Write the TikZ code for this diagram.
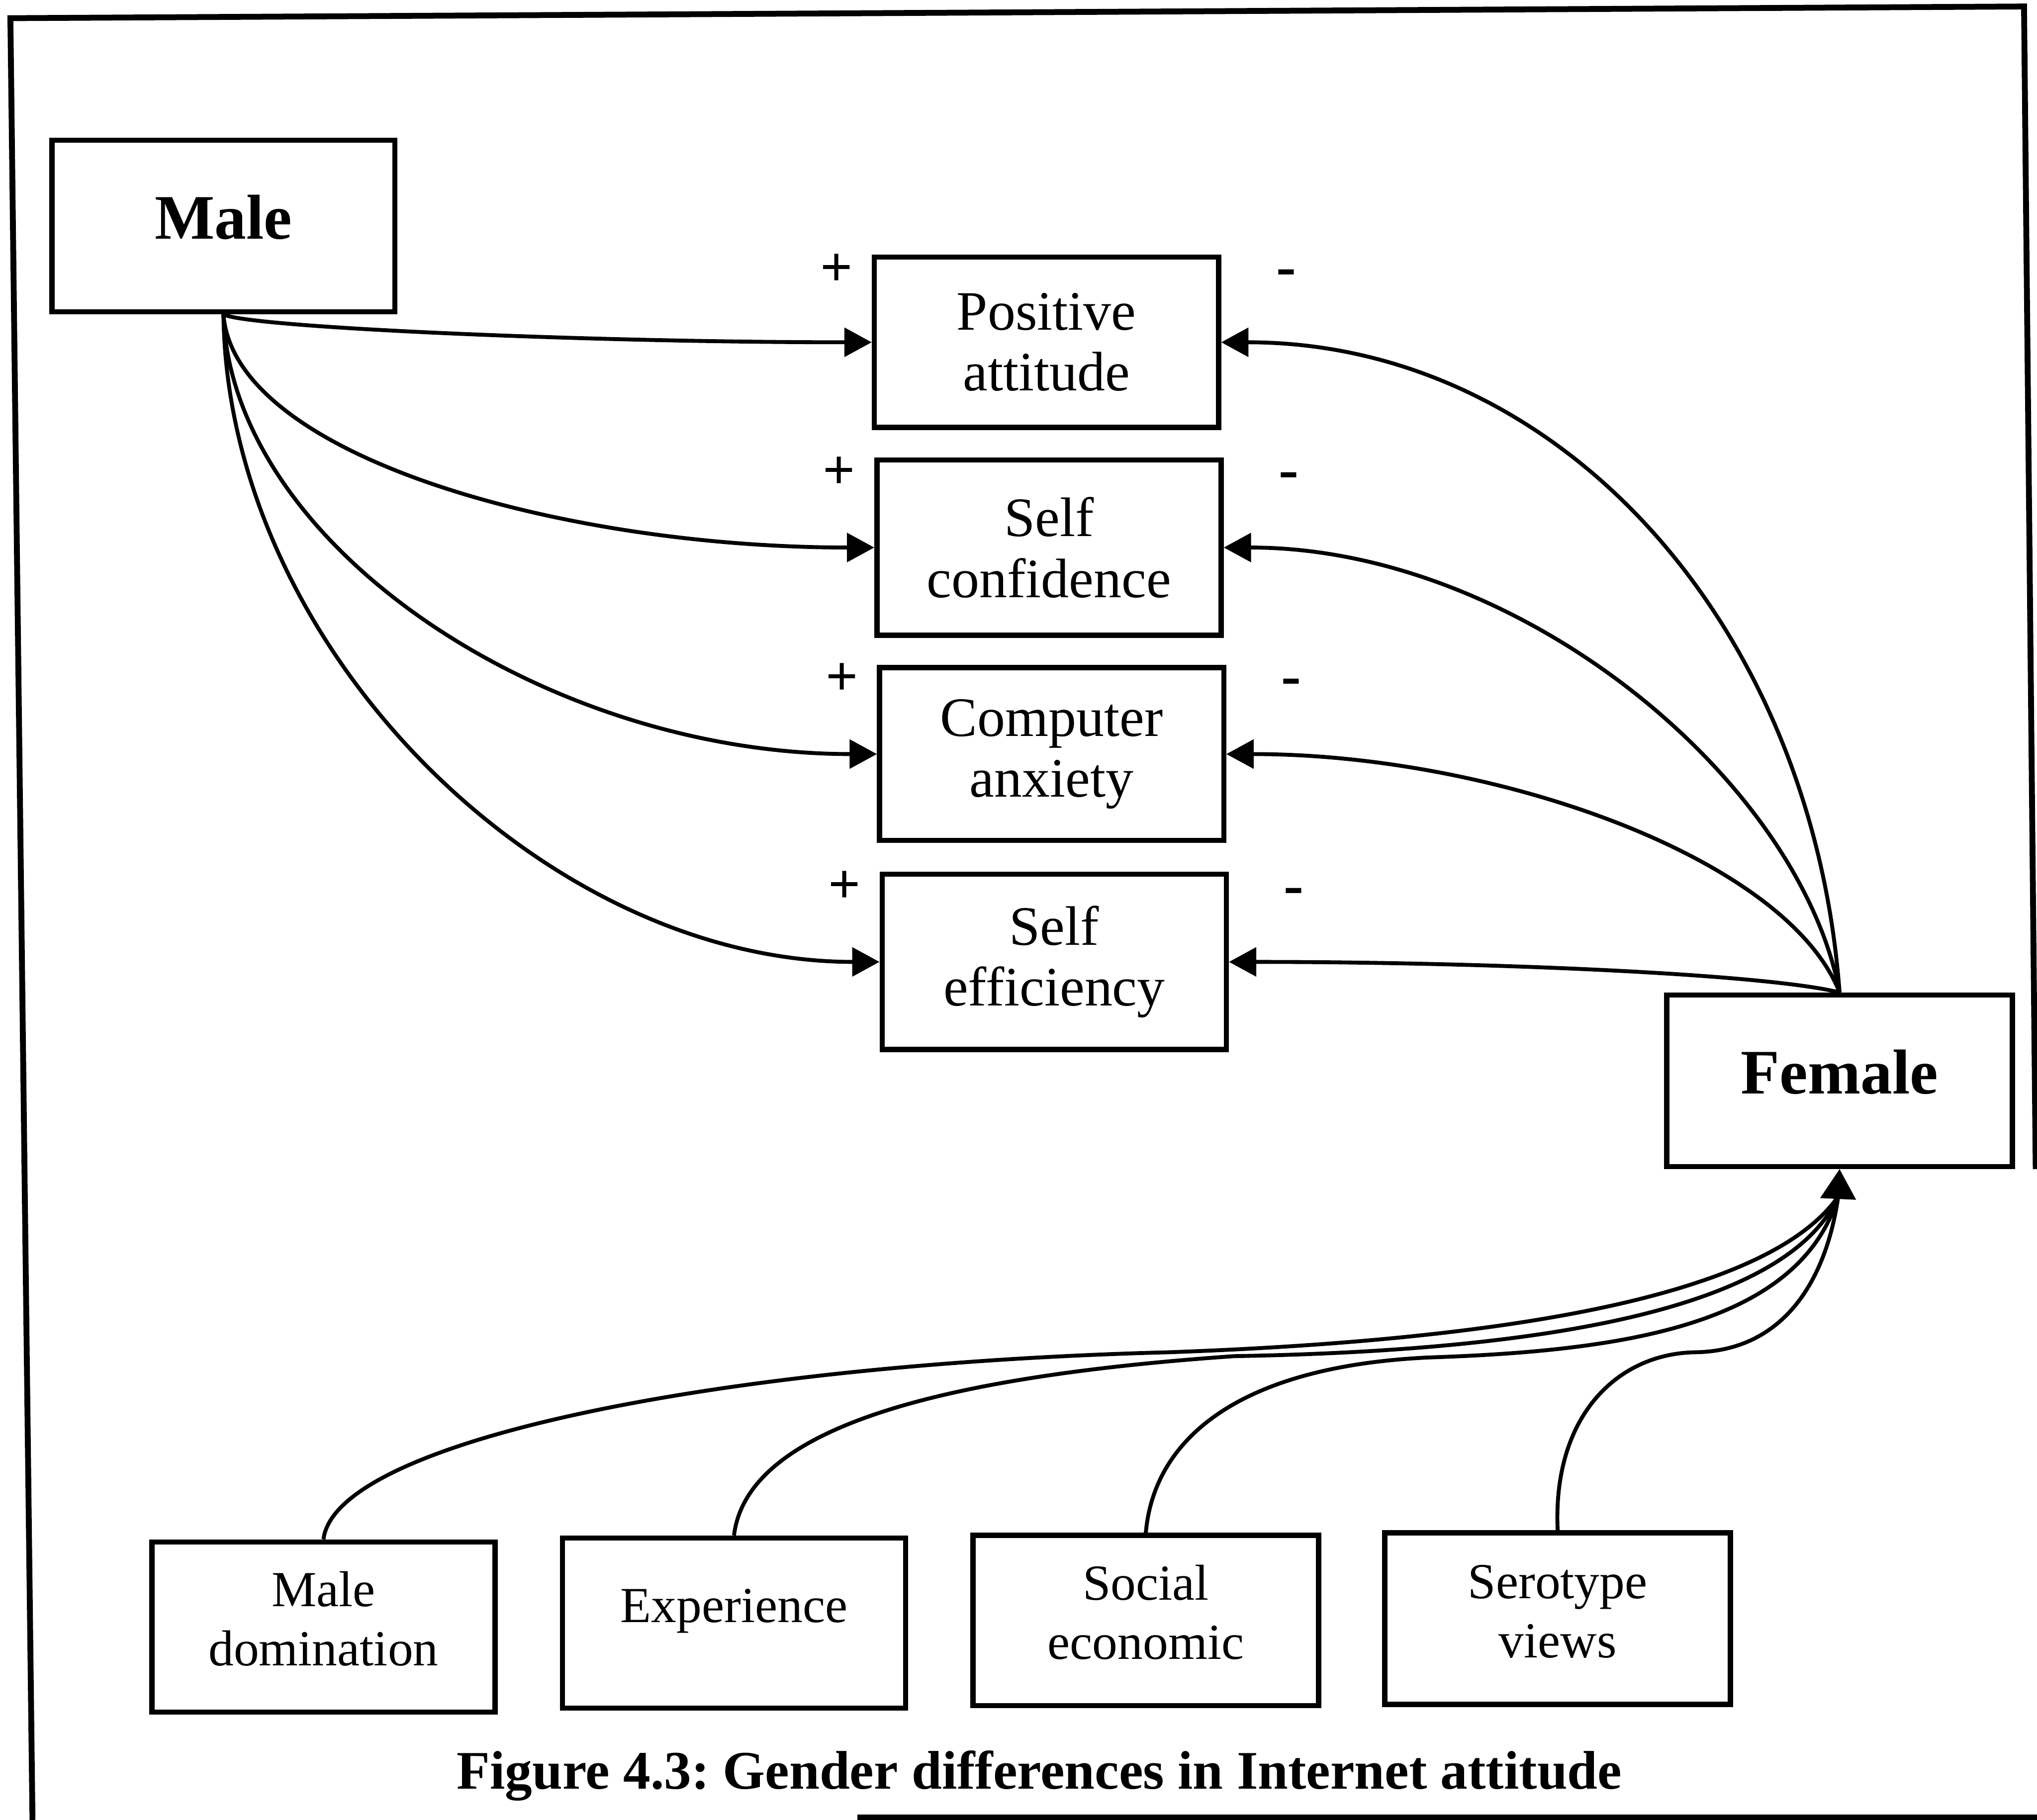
\documentclass[tikz,border=0pt]{standalone}
\usepackage{fontspec}
\setmainfont{Liberation Serif}
\usetikzlibrary{arrows.meta}
\frenchspacing
\begin{document}
\begin{tikzpicture}[x=1bp,y=-1bp,
  box/.style={draw, line width=4bp, rectangle, inner sep=0pt, align=center},
  bigfont/.style={font=\fontsize{49}{52}\selectfont\bfseries},
  midfont/.style={font=\fontsize{43}{47}\selectfont},
  lowfont/.style={font=\fontsize{39}{46}\selectfont},
  conn/.style={line width=3bp, -{Triangle[length=21bp,width=22bp]}},
  wire/.style={line width=3bp},
  plussign/.style={font=\fontsize{44}{44}\selectfont\bfseries, inner sep=0pt},
  minussign/.style={font=\fontsize{46}{46}\selectfont\bfseries, inner sep=0pt},
  framepen/.style={line width=4.5bp}
]
\useasboundingbox (0,0) rectangle (1568,1401);

% scanned frame
\draw[framepen] (25,1401) -- (8,14) -- (1558,5) -- (1567,900);
\draw[framepen] (660,1399) -- (1568,1399);

% nodes
\node[box, bigfont, minimum width=264bp, minimum height=132bp, text depth=14bp] (male) at (172,174) {Male};
\node[box, midfont, minimum width=265bp, minimum height=131bp] (pos) at (805.5,263.5) {Positive\\attitude};
\node[box, midfont, minimum width=265bp, minimum height=135bp] (conf) at (807.5,421.5) {Self\\confidence};
\node[box, midfont, minimum width=265bp, minimum height=133bp] (anx) at (809.5,580.5) {Computer\\anxiety};
\node[box, midfont, minimum width=265bp, minimum height=135bp] (eff) at (811.5,740.5) {Self\\efficiency};
\node[box, bigfont, minimum width=266bp, minimum height=132bp, text depth=14bp] (female) at (1416,832) {Female};
\node[box, lowfont, minimum width=264bp, minimum height=131bp, text depth=13bp] (dom) at (249,1252.5) {Male\\domination};
\node[box, lowfont, minimum width=264bp, minimum height=131bp, text depth=27bp] (exp) at (565,1249.5) {Experience};
\node[box, lowfont, minimum width=266bp, minimum height=131bp, text depth=13bp] (soc) at (882,1247.5) {Social\\economic};
\node[box, lowfont, minimum width=266bp, minimum height=132bp, text depth=11bp] (ster) at (1199,1246) {Serotype\\views};

% signs
\node[plussign] (p1) at (644,208) {+};
\node[plussign] (p2) at (646,364) {+};
\node[plussign] (p3) at (648,523) {+};
\node[plussign] (p4) at (650,683) {+};
\node[minussign] (m1) at (990,214) {-};
\node[minussign] (m2) at (992,370) {-};
\node[minussign] (m3) at (994,529) {-};
\node[minussign] (m4) at (996,690) {-};

% male connectors
\draw[conn] (male.south) .. controls (190,252) and (450,263.5) .. (pos.west);
\draw[conn] (male.south) .. controls (180,350) and (430,421.5) .. (conf.west);
\draw[conn] (male.south) .. controls (178,420) and (420,580.5) .. (anx.west);
\draw[conn] (male.south) .. controls (175,500) and (420,740.5) .. (eff.west);

% female connectors
\draw[conn] (female.north) .. controls (1395,480) and (1200,263.5) .. (pos.east);
\draw[conn] (female.north) .. controls (1385,600) and (1170,421.5) .. (conf.east);
\draw[conn] (female.north) .. controls (1375,660) and (1150,580.5) .. (anx.east);
\draw[conn] (female.north) .. controls (1360,750) and (1150,740.5) .. (eff.east);

% bottom connectors
\coordinate (fm) at (1415,921);
\draw[wire] (dom.north) .. controls (258,1110) and (550,1050) .. (900,1041) .. controls (1150,1032) and (1360,1000) .. (fm);
\draw[wire] (exp.north) .. controls (575,1100) and (720,1060) .. (950,1044) .. controls (1180,1040) and (1375,1010) .. (fm);
\draw[wire] (soc.north) .. controls (888,1110) and (950,1052) .. (1100,1045) .. controls (1250,1040) and (1385,1020) .. (fm);
\draw[wire] (ster.north) .. controls (1195,1090) and (1245,1042) .. (1305,1041) .. controls (1370,1040) and (1405,990) .. (fm);
\draw[line width=3bp, -{Triangle[length=23bp,width=27bp]}] (fm) -- (female.south);

% caption
\node[font=\fontsize{42}{42}\selectfont\bfseries, inner sep=0pt] (cap) at (800,1367) {Figure 4.3: Gender differences in Internet attitude};
\end{tikzpicture}
\end{document}
